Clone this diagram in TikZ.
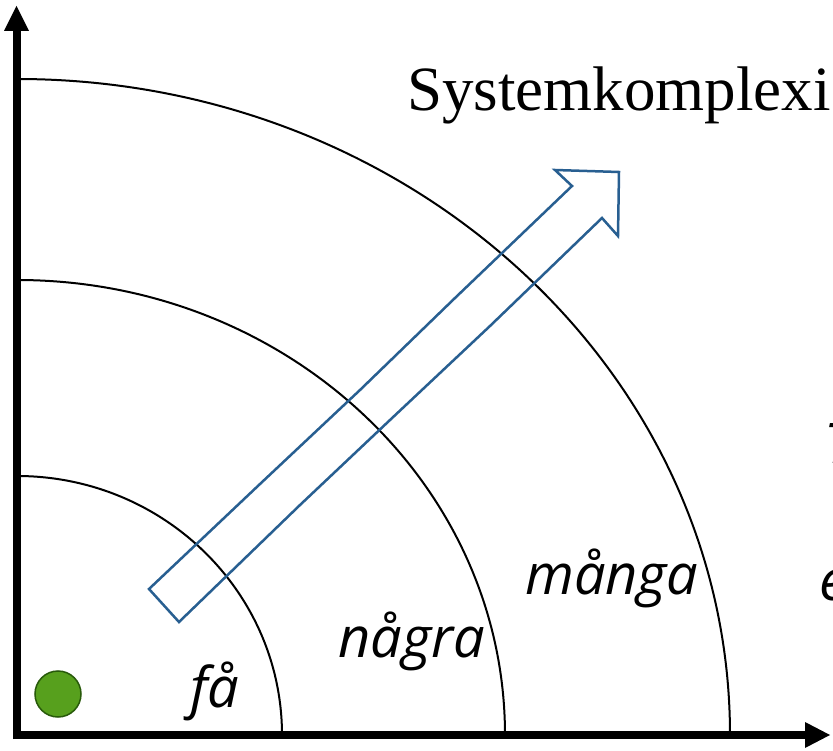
\documentclass[tikz,border=0pt]{standalone}
\usepackage{fontspec}
\setmainfont{Liberation Serif}
\newfontfamily\hand{Open Sans}
\begin{document}
\begin{tikzpicture}[x=1pt,y=-1pt,
  ring/.style={draw=black,line width=2pt},
  axisline/.style={line width=8pt,draw=black},
  lbl/.style={font=\hand\itshape\fontsize{56}{56}\selectfont,inner sep=0pt,anchor=base west},
  bluearrow/.style={line width=2.5pt,line join=miter}]
\begin{scope}
\clip (0,0) rectangle (833,751);
\fill[white] (0,0) rectangle (833,751);
% rings
\draw[ring] (282,735) arc[start angle=0,end angle=-90,x radius=265,y radius=259];
\draw[ring] (505,735) arc[start angle=0,end angle=-90,x radius=488,y radius=455];
\draw[ring] (730,735) arc[start angle=0,end angle=-90,x radius=713,y radius=656];
% axes
\coordinate (o) at (16.5,739);
\coordinate (ytop) at (16.5,28);
\coordinate (xo) at (13,735);
\coordinate (xend) at (808,735);
\draw[axisline] (o) -- (ytop);
\draw[axisline] (xo) -- (xend);
\fill (4,31) -- (29,31) -- (16.5,6) -- cycle;
\fill (805,722) -- (805,748) -- (830,735) -- cycle;
% green dot
\node[circle,minimum size=46pt,inner sep=0pt,fill={rgb,255:red,87;green,160;blue,29},draw={rgb,255:red,40;green,90;blue,10},line width=1.5pt] (dot) at (58,694) {};
% blue arrow
\draw[bluearrow,draw={rgb,255:red,40;green,95;blue,145}] (149,589) -- (260,484) -- (360,390) -- (455,298) -- (572,186) -- (555,170) -- (619,172) -- (618,236) -- (602,218)
  -- (490,326) -- (390,420) -- (300,505) -- (179,622) -- cycle;
% title
\node[inner sep=0pt,anchor=base east,font=\fontsize{63}{63}\selectfont] (title) at (831,111) {Systemkomplexi};
% labels
\node[lbl] (fa) at (190,707) {få};
\node[lbl] (nagra) at (338,657) {några};
\node[lbl] (manga) at (525,594) {många};
\node[lbl] (t) at (824,463) {T};
\node[lbl] (e) at (819,600) {e};
\end{scope}
\pgfresetboundingbox
\path[use as bounding box] (0,0) rectangle (833,751);
\end{tikzpicture}
\end{document}
